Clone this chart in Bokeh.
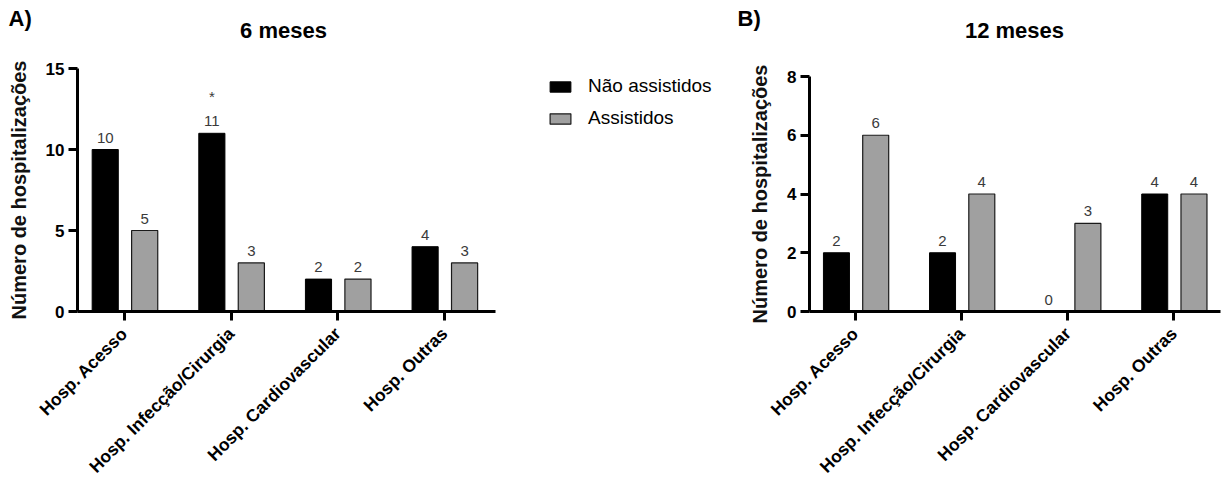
import math
from bokeh.plotting import figure
from bokeh.models import Range1d, FixedTicker, Legend, LegendItem, ColumnDataSource
from bokeh.transform import dodge
from bokeh.layouts import row, column
from bokeh.embed import file_html
from bokeh.resources import INLINE
from bokeh.core.properties import value

# ---------------- data ----------------
categories = ["Hosp. Acesso", "Hosp. Infecção/Cirurgia", "Hosp. Cardiovascular", "Hosp. Outras"]
series_names = ["Não assistidos", "Assistidos"]
nao_6m = [10, 11, 2, 4]
assist_6m = [5, 3, 2, 3]
sig_6m = ["", "*", "", ""]
nao_12m = [2, 2, 0, 4]
assist_12m = [6, 4, 3, 4]
sig_12m = ["", "", "", ""]
y_ticks_6m = [0, 5, 10, 15]
y_ticks_12m = [0, 2, 4, 6, 8]
panel_letters = ["A)", "B)"]
panel_titles = ["6 meses", "12 meses"]
y_label = "Número de hospitalizações"

# ---------------- style / layout ----------------
FONT = "Liberation Sans"
W, H = 1225, 486
STRIP = 48
ROW_H = H - STRIP
BOTTOM = 312
BLACK = "#000000"
GREY = "#a0a0a0"
EDGE = "#1a1a1a"


def make_panel(width, bl, br, bt, bb, xr, ymax, yticks, nao, assist, sig):
    p = figure(width=width, height=ROW_H, x_range=Range1d(*xr), y_range=Range1d(0, ymax),
               output_backend="svg", toolbar_location=None,
               min_border_left=bl, min_border_right=br, min_border_top=bt, min_border_bottom=bb)
    idx = list(range(len(categories)))
    src = ColumnDataSource(dict(idx=idx, nao=nao, assist=assist,
                                nao_lbl=[str(v) for v in nao],
                                assist_lbl=[str(v) for v in assist], sig=sig))
    p.vbar(x=dodge("idx", -0.18, range=p.x_range), top="nao", width=0.245, bottom=0,
           fill_color=BLACK, line_color=BLACK, line_width=1, source=src)
    p.vbar(x=dodge("idx", 0.19, range=p.x_range), top="assist", width=0.245, bottom=0,
           fill_color=GREY, line_color=EDGE, line_width=1.2, source=src)
    common = dict(text_align="center", text_baseline="alphabetic",
                  text_font=value(FONT), text_font_size="15px", text_color="#3a3a3a", source=src)
    p.text(x=dodge("idx", -0.18, range=p.x_range), y="nao", text="nao_lbl", y_offset=-12, **common)
    p.text(x=dodge("idx", 0.19, range=p.x_range), y="assist", text="assist_lbl", y_offset=-12, **common)
    p.text(x=dodge("idx", -0.18, range=p.x_range), y="nao", text="sig", y_offset=-37, **common)

    p.xgrid.visible = False
    p.ygrid.visible = False
    p.outline_line_color = None

    for ax in (p.xaxis, p.yaxis):
        ax.axis_line_width = 3
        ax.axis_line_color = "black"
        ax.major_tick_line_width = 3
        ax.major_tick_line_color = "black"
        ax.major_tick_out = 9
        ax.major_tick_in = 0
        ax.minor_tick_line_color = None
        ax.major_label_text_font = FONT
        ax.major_label_text_font_style = "bold"
        ax.major_label_text_color = "black"

    p.xaxis.ticker = FixedTicker(ticks=idx)
    p.xaxis.major_label_overrides = {i: c for i, c in enumerate(categories)}
    p.xaxis.major_label_orientation = math.pi / 4
    p.xaxis.major_label_text_font_size = "17.5px"
    p.xaxis.major_label_standoff = 10

    p.yaxis.ticker = FixedTicker(ticks=yticks)
    p.yaxis.major_label_text_font_size = "17px"
    p.yaxis.major_label_standoff = 4
    p.yaxis.axis_label = y_label
    p.yaxis.axis_label_text_font = FONT
    p.yaxis.axis_label_text_font_style = "bold"
    p.yaxis.axis_label_text_font_size = "20px"
    p.yaxis.axis_label_text_color = "#111111"
    p.yaxis.axis_label_standoff = 13
    return p


# frames: A 77..495 x 68..312 ; B 809..1220 x 76..312 (page pixels)
p1 = make_panel(500, 77, 5, 68 - STRIP, H - BOTTOM, (-0.44, 3.48), 15, y_ticks_6m,
                nao_6m, assist_6m, sig_6m)
p2 = make_panel(485, 69, 5, 76 - STRIP, H - BOTTOM, (-0.434, 3.44), 8, y_ticks_12m,
                nao_12m, assist_12m, sig_12m)

# legend panel: swatch renderers with undefined (NaN) positions, so nothing is drawn
pleg = figure(width=240, height=ROW_H, x_range=Range1d(0, 1), y_range=Range1d(0, 1),
              output_backend="svg", toolbar_location=None,
              min_border_left=0, min_border_right=0, min_border_top=68 - STRIP,
              min_border_bottom=H - BOTTOM)
pleg.axis.visible = False
pleg.xgrid.visible = False
pleg.ygrid.visible = False
pleg.outline_line_color = None
nan = float("nan")
leg_src = ColumnDataSource(dict(x=[nan], top=[nan]))
r_nao = pleg.vbar(x="x", top="top", width=0.1, fill_color=BLACK, line_color=BLACK, source=leg_src)
r_ass = pleg.vbar(x="x", top="top", width=0.1, fill_color=GREY, line_color=EDGE, line_width=1.2,
                  source=leg_src)
legend = Legend(items=[LegendItem(label=series_names[0], renderers=[r_nao]),
                       LegendItem(label=series_names[1], renderers=[r_ass])],
                location=(47, BOTTOM - 129), margin=0, padding=0, border_line_color=None,
                background_fill_alpha=0, glyph_width=26, glyph_height=13,
                label_height=22, spacing=10, label_standoff=15,
                label_text_font=FONT, label_text_font_size="19px", label_text_color="black")
pleg.add_layout(legend)

# title strip (letters and panel titles)
strip = figure(width=W, height=STRIP, x_range=Range1d(0, W), y_range=Range1d(STRIP, 0),
               output_backend="svg", toolbar_location=None,
               min_border_left=0, min_border_right=0, min_border_top=0, min_border_bottom=0)
strip.axis.visible = False
strip.xgrid.visible = False
strip.ygrid.visible = False
strip.outline_line_color = None
strip.text(x=[8, 737], y=[18, 18], text=panel_letters, text_align="left",
           text_baseline="alphabetic", text_font=value(FONT), text_font_style="bold",
           text_font_size="22px", text_color="black")
strip.text(x=[283, 1014], y=[30, 30], text=panel_titles, text_align="center",
           text_baseline="alphabetic", text_font=value(FONT), text_font_style="bold",
           text_font_size="22px", text_color="black")

layout = column(strip, row(column(p1), column(pleg), column(p2), spacing=0), spacing=0)
open("out.html", "w").write(file_html(layout, INLINE))
